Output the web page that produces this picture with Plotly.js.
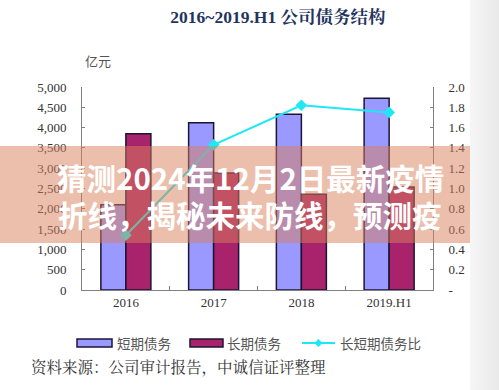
<!DOCTYPE html>
<html>
<head>
<meta charset="utf-8">
<script src="https://cdn.plot.ly/plotly-3.0.1.min.js"></script>
<style>
html,body{margin:0;padding:0;background:#fff;}
#chart{width:499px;height:390px;position:relative;}
#edge{position:absolute;left:470px;top:0;width:29px;height:390px;background:linear-gradient(to right,#f6f6f6,#e9e9e9);pointer-events:none;}
</style>
</head>
<body>
<div style="position:relative;width:499px;height:390px;">
<div id="chart"></div>
<div id="edge"></div>
</div>
<script>
var categories = ['2016', '2017', '2018', '2019.H1'];
var shortDebt = [2100, 4120, 4330, 4720];
var longDebt = [3850, 2880, 2360, 2540];
var ratio = [0.54, 1.43, 1.82, 1.75];
var seriesNames = ['短期债务', '长期债务', '长短期债务比'];
var leftTicks = [0, 500, 1000, 1500, 2000, 2500, 3000, 3500, 4000, 4500, 5000];
var leftTickText = ['0', '500', '1,000', '1,500', '2,000', '2,500', '3,000', '3,500', '4,000', '4,500', '5,000'];
var rightTicks = [0, 0.2, 0.4, 0.6, 0.8, 1.0, 1.2, 1.4, 1.6, 1.8, 2.0];
var rightTickText = ['-', '0.2', '0.4', '0.6', '0.8', '1.0', '1.2', '1.4', '1.6', '1.8', '2.0'];

var serif = 'Liberation Serif, "Noto Serif CJK SC", "Noto Sans CJK SC", serif';
var axisColor = '#808080';
var shortColor = '#9999ff', longColor = '#a8236b', ratioColor = '#1fe8f5', outline = '#1c1438';

var traces = [
  {type: 'bar', name: seriesNames[0], x: categories, y: shortDebt,
   marker: {color: shortColor, line: {color: outline, width: 1.5}}},
  {type: 'bar', name: seriesNames[1], x: categories, y: longDebt,
   marker: {color: longColor, line: {color: outline, width: 1.5}}},
  {type: 'scatter', mode: 'lines+markers', name: seriesNames[2], x: categories, y: ratio, yaxis: 'y2',
   line: {color: ratioColor, width: 2}, marker: {symbol: 'diamond', size: 9, color: ratioColor}}
];

var PX = function(px){ return (px - 82) / 351; };
var PY = function(py){ return (290 - py) / 203; };

var legendFont = {family: '"Noto Sans CJK SC", sans-serif', size: 13.5, color: '#555'};
var shapes = [
  // legend swatches
  {type: 'rect', xref: 'paper', yref: 'paper', x0: PX(77), x1: PX(112), y0: PY(347), y1: PY(339),
   fillcolor: shortColor, line: {color: outline, width: 1.5}},
  {type: 'rect', xref: 'paper', yref: 'paper', x0: PX(190), x1: PX(223), y0: PY(347), y1: PY(339),
   fillcolor: longColor, line: {color: outline, width: 1.5}},
  {type: 'line', xref: 'paper', yref: 'paper', x0: PX(302), x1: PX(335), y0: PY(343), y1: PY(343),
   line: {color: ratioColor, width: 2}},
  {type: 'path', xref: 'paper', yref: 'paper',
   path: 'M ' + PX(318.5) + ' ' + PY(339) + ' L ' + PX(322.5) + ' ' + PY(343) + ' L ' + PX(318.5) + ' ' + PY(347) + ' L ' + PX(314.5) + ' ' + PY(343) + ' Z',
   fillcolor: ratioColor, line: {width: 0}},
  // overlay band
  {type: 'rect', xref: 'paper', yref: 'paper', x0: PX(0), x1: PX(499), y0: PY(243), y1: PY(146),
   fillcolor: 'rgba(218,128,92,0.5)', line: {width: 0}, layer: 'above'}
];

var layout = {
  width: 499, height: 390,
  margin: {l: 82, r: 66, t: 87, b: 100},
  paper_bgcolor: '#ffffff', plot_bgcolor: '#ffffff',
  barmode: 'group', bargap: 0.43, bargroupgap: 0,
  showlegend: false,
  title: {text: '<b>2016~2019.H1 公司债务结构</b>', x: 0.557, xanchor: 'center', y: 1 - 17/390, yanchor: 'middle',
          font: {family: serif, size: 17.5, color: '#1f3560'}},
  xaxis: {type: 'category', range: [-0.5, 3.5], showline: true, linecolor: axisColor, linewidth: 1,
          ticks: 'inside', tickson: 'boundaries', ticklen: 4, tickcolor: axisColor, showgrid: false, zeroline: false,
          tickfont: {family: serif, size: 13, color: '#333'}},
  yaxis: {range: [0, 5000], tickvals: leftTicks, ticktext: leftTickText, showline: true, linecolor: axisColor,
          ticks: 'inside', ticklen: 3, tickcolor: axisColor, showgrid: false, zeroline: false,
          tickfont: {family: serif, size: 13, color: '#333'}, ticklabelstandoff: 12},
  yaxis2: {range: [0, 2], overlaying: 'y', side: 'right', tickvals: rightTicks, ticktext: rightTickText, showline: true,
           linecolor: axisColor, ticks: 'inside', ticklen: 3, tickcolor: axisColor, showgrid: false, zeroline: false,
           tickfont: {family: serif, size: 13, color: '#333'}, ticklabelstandoff: 12},
  shapes: shapes,
  annotations: [
    {xref: 'paper', yref: 'paper', x: PX(115), y: PY(343), text: seriesNames[0], showarrow: false, xanchor: 'left', yanchor: 'middle', font: legendFont},
    {xref: 'paper', yref: 'paper', x: PX(225), y: PY(343), text: seriesNames[1], showarrow: false, xanchor: 'left', yanchor: 'middle', font: legendFont},
    {xref: 'paper', yref: 'paper', x: PX(338), y: PY(343), text: seriesNames[2], showarrow: false, xanchor: 'left', yanchor: 'middle', font: legendFont},
    {xref: 'paper', yref: 'paper', x: PX(98), y: PY(60), text: '亿元', showarrow: false, xanchor: 'center', yanchor: 'middle',
     font: {family: '"Noto Sans CJK SC", sans-serif', size: 13, color: '#555'}},
    {xref: 'paper', yref: 'paper', x: PX(29), y: PY(366), text: '资料来源：公司审计报告，中诚信证评整理', showarrow: false,
     xanchor: 'left', yanchor: 'middle', font: {family: '"Noto Serif CJK SC", "Noto Sans CJK SC", serif', size: 15.5, color: '#333'}},
    {xref: 'paper', yref: 'paper', x: PX(250), y: PY(177), text: '<b>猜测2024年12月2日最新疫情</b>', showarrow: false,
     xanchor: 'center', yanchor: 'middle', font: {family: '"Noto Sans CJK SC", sans-serif', size: 29.5, color: '#ffffff'}},
    {xref: 'paper', yref: 'paper', x: PX(250), y: PY(214), text: '<b>折线，揭秘未来防线，预测疫</b>', showarrow: false,
     xanchor: 'center', yanchor: 'middle', font: {family: '"Noto Sans CJK SC", sans-serif', size: 29.5, color: '#ffffff'}}
  ]
};

Plotly.newPlot('chart', traces, layout, {displayModeBar: false, staticPlot: true});
</script>
</body>
</html>
